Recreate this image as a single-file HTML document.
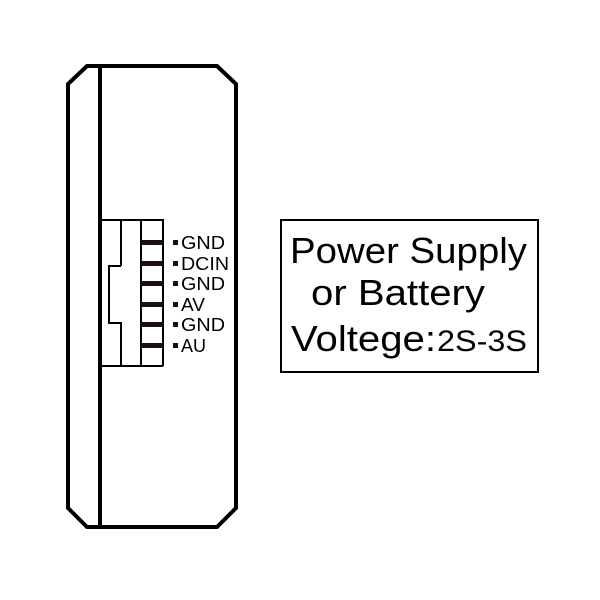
<!DOCTYPE html>
<html><head><style>html,body{margin:0;padding:0;background:#fff}svg{display:block}</style></head>
<body>
<svg width="600" height="600" viewBox="0 0 600 600" xmlns="http://www.w3.org/2000/svg">
<g fill="none" stroke="#000" stroke-width="4" stroke-linejoin="miter">
<polygon points="87,66 217,66 236,84 236,508 217,527 87,527 68,508 68,84"/>
<line x1="100" y1="66" x2="100" y2="527"/>
</g>
<g fill="none" stroke="#000" stroke-width="2">
<polyline points="100,220 163,220 163,366"/>
<line x1="100" y1="366" x2="163" y2="366"/>
<line x1="121" y1="220" x2="121" y2="266"/>
<polyline points="121,266 109,266 109,323 121,323 121,366"/>
<line x1="141" y1="220" x2="141" y2="366"/>
</g>
<g fill="#1a1010">
<rect x="141" y="240" width="22" height="5"/>
<rect x="141" y="261" width="22" height="5"/>
<rect x="141" y="281" width="22" height="5"/>
<rect x="141" y="302" width="22" height="5"/>
<rect x="141" y="322" width="22" height="5"/>
<rect x="141" y="343" width="22" height="5"/>
<rect x="173" y="240" width="5" height="5"/>
<rect x="173" y="261" width="5" height="5"/>
<rect x="173" y="281" width="5" height="5"/>
<rect x="173" y="302" width="5" height="5"/>
<rect x="173" y="322" width="5" height="5"/>
<rect x="173" y="343" width="5" height="5"/>
</g>
<g font-family="Liberation Sans, sans-serif" font-size="18" fill="#000">
<text x="181" y="249" textLength="44" lengthAdjust="spacingAndGlyphs">GND</text>
<text x="181" y="270" textLength="48" lengthAdjust="spacingAndGlyphs">DCIN</text>
<text x="181" y="290" textLength="44" lengthAdjust="spacingAndGlyphs">GND</text>
<text x="181" y="311" textLength="24" lengthAdjust="spacingAndGlyphs">AV</text>
<text x="181" y="331" textLength="44" lengthAdjust="spacingAndGlyphs">GND</text>
<text x="181" y="352" textLength="25" lengthAdjust="spacingAndGlyphs">AU</text>
</g>
<rect x="281" y="220" width="257" height="152" fill="none" stroke="#000" stroke-width="2"/>
<g font-family="Liberation Sans, sans-serif" font-size="36" fill="#000">
<text x="290" y="263" textLength="237" lengthAdjust="spacingAndGlyphs">Power Supply</text>
<text x="311" y="305" textLength="174" lengthAdjust="spacingAndGlyphs">or Battery</text>
<text x="291" y="351" textLength="145" lengthAdjust="spacingAndGlyphs">Voltege:</text>
<text x="437" y="351" font-size="30" textLength="90" lengthAdjust="spacingAndGlyphs">2S-3S</text>
</g>
</svg>
</body></html>
